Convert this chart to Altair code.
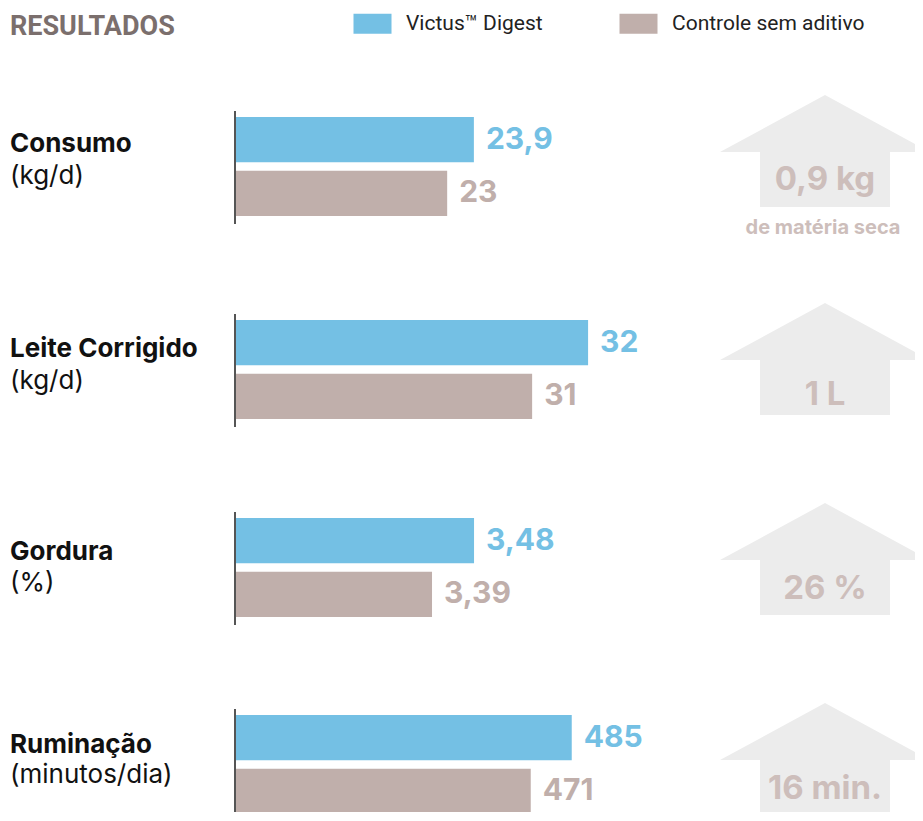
import altair as alt
import pandas as pd

# ---------------- data ----------------
series = ["Victus™ Digest", "Controle sem aditivo"]
categories = ["Consumo", "Leite Corrigido", "Gordura", "Ruminação"]
units = ["(kg/d)", "(kg/d)", "(%)", "(minutos/dia)"]
victus = [23.9, 32, 3.48, 485]
controle = [23, 31, 3.39, 471]
gains = ["0,9 kg", "1 L", "26 %", "16 min."]
gain_notes = ["de matéria seca", "", "", ""]

# ---------------- style / layout ----------------
bar_colors = ["#74c0e4", "#c0afab"]
gain_color = "#cdbebb"
arrow_color = "#ececec"
FONT = "Inter"
HEAD = "Roboto"

x_domains = [(15.85, 31.52), (25.69, 34.0), (2.968, 3.964), (370.0, 528.8)]
panel_heights = [203, 198, 197, 134]
arrow_tops = [15, 20, 22, 25]
gain_y = [100, 112, 108, 111]
name_y = [64, 66, 71, 67]
unit_y = [96, 98, 102, 97]
W = 907
X_RANGE = [227, 692]
ARROW_X = 817

RECT_PATH = "M-1.9,-1L1.9,-1L1.9,1L-1.9,1Z"
ARROW_PATH = ("M0,-0.533L1,0.01L0.619,0.01L0.619,0.533L-0.619,0.533"
              "L-0.619,0.01L-1,0.01Z")

legend = alt.Legend(
    title=None, orient="none", direction="horizontal",
    legendX=354, legendY=5,
    symbolType=RECT_PATH, symbolSize=400, symbolStrokeWidth=0, symbolOpacity=1,
    labelFont=HEAD, labelFontSize=21, labelColor="#222222",
    labelOffset=23, columnPadding=76, labelLimit=400,
)


def fmt(v):
    return f"{v:g}".replace(".", ",")


one = pd.DataFrame({"k": [0]})

header = alt.Chart(one).mark_text(
    text="RESULTADOS", font=HEAD, fontSize=27, fontWeight="bold",
    color="#7b6f6d", align="left", baseline="middle",
).encode(x=alt.value(2), y=alt.value(19)).properties(width=W, height=72)

panels = []
for i, cat in enumerate(categories):
    df = pd.DataFrame({
        "series": series,
        "value": [victus[i], controle[i]],
        "label": [fmt(victus[i]), fmt(controle[i])],
    })
    dmin, dmax = x_domains[i]
    xs = alt.Scale(domain=[dmin, dmax], range=X_RANGE, zero=False, nice=False)
    ys = alt.Scale(domain=series, range=[37, 136], paddingInner=0.155, paddingOuter=0)
    cs = alt.Scale(domain=series, range=bar_colors)

    base = alt.Chart(df)
    arrow = alt.Chart(one).mark_point(
        shape=ARROW_PATH, filled=True, size=44100, color=arrow_color, opacity=1,
        strokeWidth=0, clip=True,
    ).encode(x=alt.value(ARROW_X), y=alt.value(arrow_tops[i] + 56))
    gain = alt.Chart(one).mark_text(
        text=gains[i], font=FONT, fontSize=33, fontWeight="bold", color=gain_color,
        align="center", baseline="middle", clip=True,
    ).encode(x=alt.value(ARROW_X), y=alt.value(gain_y[i]))
    layers = [arrow, gain]
    if gain_notes[i]:
        layers.append(alt.Chart(one).mark_text(
            text=gain_notes[i], font=FONT, fontSize=20, fontWeight="bold",
            color=gain_color, align="center", baseline="middle", clip=True,
        ).encode(x=alt.value(ARROW_X - 2), y=alt.value(148)))

    bars = base.mark_bar(opacity=1, clip=True).encode(
        x=alt.X("value:Q", scale=xs, axis=None),
        x2=alt.datum(dmin),
        y=alt.Y("series:N", scale=ys, axis=None),
        color=alt.Color("series:N", scale=cs, legend=legend),
    )
    labels = base.mark_text(
        font=FONT, fontSize=30, fontWeight="bold", align="left",
        baseline="middle", dx=12, clip=True,
    ).encode(
        x=alt.X("value:Q", scale=xs, axis=None),
        y=alt.Y("series:N", scale=ys, axis=None),
        text="label:N",
        color=alt.Color("series:N", scale=cs, legend=legend),
    )
    rule = alt.Chart(one).mark_rule(color="#555555", strokeWidth=2, clip=True).encode(
        x=alt.value(X_RANGE[0]),
        y=alt.value(31), y2=alt.value(144),
    )
    name = alt.Chart(one).mark_text(
        text=cat, font=FONT, fontSize=26, fontWeight="bold", color="#111111",
        align="left", baseline="middle",
    ).encode(x=alt.value(2), y=alt.value(name_y[i]))
    unit = alt.Chart(one).mark_text(
        text=units[i], font=FONT, fontSize=26, fontWeight="normal", color="#111111",
        align="left", baseline="middle",
    ).encode(x=alt.value(2), y=alt.value(unit_y[i]))

    panel = alt.layer(*layers, bars, labels, rule, name, unit).properties(
        width=W, height=panel_heights[i]
    )
    panels.append(panel)

chart = alt.vconcat(header, *panels, spacing=0).resolve_scale(
    x="independent", y="independent", color="shared"
).properties(padding=0).configure_view(stroke=None)

chart.save("out.html", embed_options={"renderer": "svg", "actions": False})
